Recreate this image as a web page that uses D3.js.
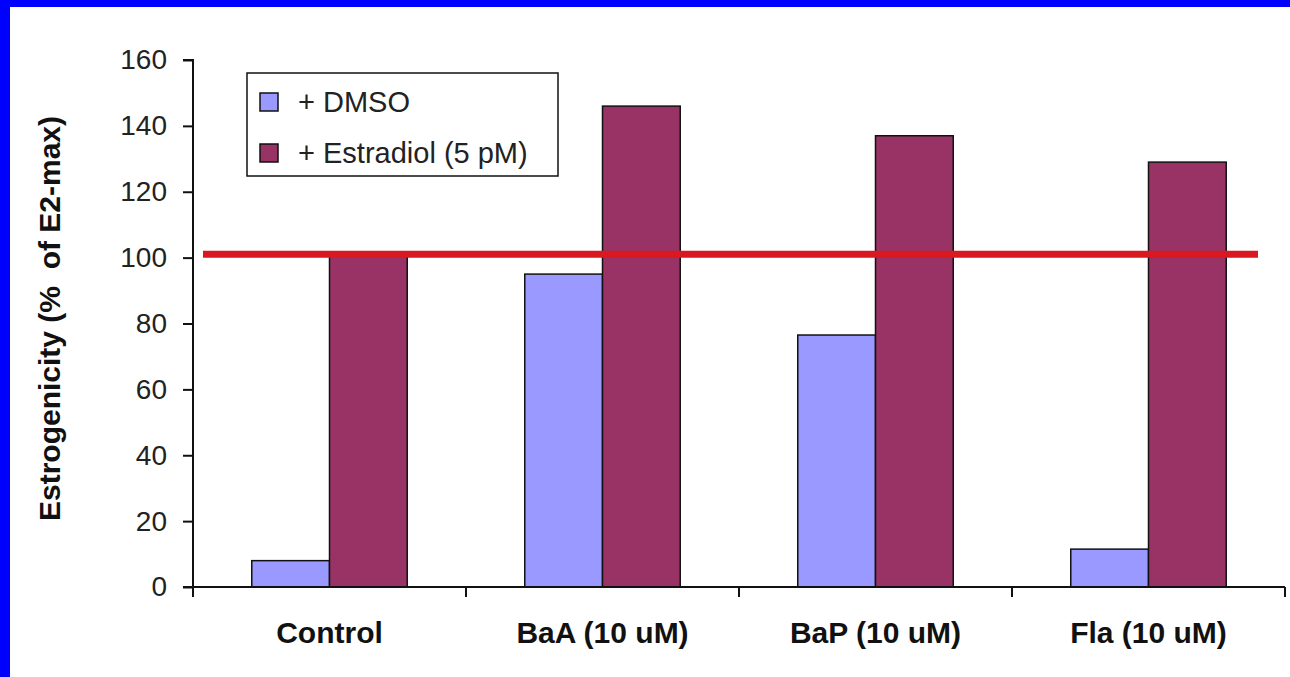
<!DOCTYPE html>
<html>
<head>
<meta charset="utf-8">
<script src="https://cdn.jsdelivr.net/npm/d3@7"></script>
<style>
  html, body { margin: 0; padding: 0; background: #fff; }
  svg { display: block; font-family: "Liberation Sans", Arial, sans-serif; }
</style>
</head>
<body>
<svg id="chart" width="1290" height="677"></svg>
<script>
// ---- data ----
const categories = ["Control", "BaA (10 uM)", "BaP (10 uM)", "Fla (10 uM)"];
const seriesNames = ["+ DMSO", "+ Estradiol (5 pM)"];
const dmsoValues = [8, 95, 76.5, 11.5];
const estradiolValues = [101, 146, 137, 129];
const referenceValue = 101;
const yTicks = [0, 20, 40, 60, 80, 100, 120, 140, 160];
const yTitle = "Estrogenicity (%\u00A0\u00A0of E2-max)";

const seriesColors = ["#9999ff", "#993366"];

const svg = d3.select("#chart");
const W = 1290, H = 677;

// background + blue frame (top and left)
svg.append("rect").attr("width", W).attr("height", H).attr("fill", "#0000ff");
svg.append("rect").attr("x", 10).attr("y", 7).attr("width", W - 10).attr("height", H - 7).attr("fill", "#ffffff");

const plot = { left: 193, right: 1285, top: 60, bottom: 587 };

const x0 = d3.scaleBand().domain(categories).range([plot.left, plot.right]).paddingInner(0).paddingOuter(0);
const x1 = d3.scaleBand().domain(seriesNames).range([0, x0.bandwidth()]).paddingInner(0).paddingOuter(0.756);
const y = d3.scaleLinear().domain([0, 160]).range([plot.bottom, plot.top]);

const rows = categories.map((c, i) => ({ cat: c, vals: [dmsoValues[i], estradiolValues[i]] }));

// bars
const groups = svg.append("g").selectAll("g").data(rows).join("g")
  .attr("transform", d => `translate(${x0(d.cat)},0)`);
groups.selectAll("rect").data(d => d.vals.map((v, j) => ({ name: seriesNames[j], v, j })))
  .join("rect")
  .attr("x", d => x1(d.name))
  .attr("y", d => y(d.v))
  .attr("width", x1.bandwidth())
  .attr("height", d => y(0) - y(d.v))
  .attr("fill", d => seriesColors[d.j])
  .attr("stroke", "#111")
  .attr("stroke-width", 1.5);

// reference line
svg.append("line")
  .attr("x1", plot.left + 10).attr("x2", plot.right - 27)
  .attr("y1", y(referenceValue)).attr("y2", y(referenceValue))
  .attr("stroke", "#d9191f").attr("stroke-width", 7);

// y axis
const yAxis = d3.axisLeft(y).tickValues(yTicks).tickSize(10).tickPadding(16).tickFormat(d3.format("d"));
const gy = svg.append("g").attr("transform", `translate(${plot.left},0)`).call(yAxis);
gy.select(".domain").attr("stroke", "#111").attr("stroke-width", 2).attr("d", `M-10,${plot.top}H0V${plot.bottom + 10}`);
gy.selectAll(".tick line").attr("stroke", "#111").attr("stroke-width", 2);
gy.selectAll(".tick text").attr("font-size", 28).attr("fill", "#222")
  .attr("font-family", "'Liberation Sans', Arial, sans-serif");

// x axis
const boundaries = categories.map(c => x0(c)).concat([plot.right]);
const gx = svg.append("g");
gx.append("line").attr("x1", plot.left - 10).attr("x2", plot.right)
  .attr("y1", y(0)).attr("y2", y(0)).attr("stroke", "#111").attr("stroke-width", 2);
gx.selectAll("line.b").data(boundaries).join("line").attr("class", "b")
  .attr("x1", d => d).attr("x2", d => d)
  .attr("y1", y(0)).attr("y2", y(0) + 10)
  .attr("stroke", "#111").attr("stroke-width", 2);
gx.selectAll("text").data(categories).join("text")
  .attr("x", d => x0(d) + x0.bandwidth() / 2)
  .attr("y", 643)
  .attr("text-anchor", "middle")
  .attr("font-size", 30).attr("font-weight", "bold").attr("fill", "#111")
  .text(d => d);

// y title
svg.append("text")
  .attr("transform", `translate(60,${(110 + 527) / 2}) rotate(-90)`)
  .attr("text-anchor", "middle")
  .attr("font-size", 30).attr("font-weight", "bold").attr("fill", "#111")
  .text(yTitle);

// legend
const lg = svg.append("g");
lg.append("rect").attr("x", 247).attr("y", 73).attr("width", 311).attr("height", 103)
  .attr("fill", "#fff").attr("stroke", "#111").attr("stroke-width", 1.5);
const items = lg.selectAll("g").data(seriesNames).join("g")
  .attr("transform", (d, i) => `translate(0,${i * 51})`);
items.append("rect").attr("x", 260).attr("y", 93).attr("width", 18).attr("height", 18)
  .attr("fill", (d, i) => seriesColors[i]).attr("stroke", "#111").attr("stroke-width", 1.5);
items.append("text").attr("x", 298).attr("y", 112)
  .attr("font-size", 29).attr("fill", "#222").text(d => d);
</script>
</body>
</html>
